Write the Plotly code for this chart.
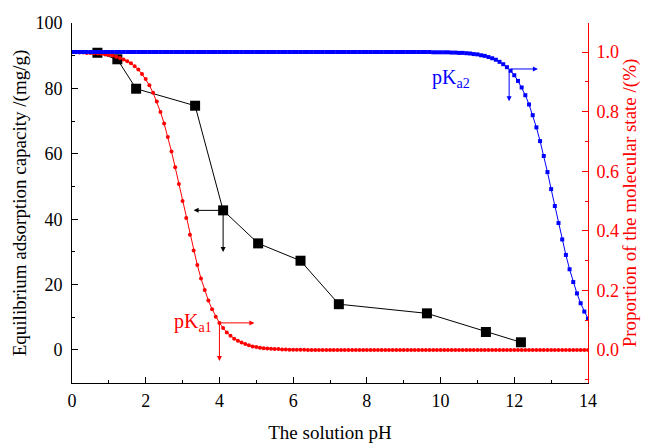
import plotly.graph_objects as go

# ---- adsorption data (black squares) ----
ph_ads = [0.69, 1.23, 1.74, 3.34, 4.10, 5.05, 6.20, 7.24, 9.63, 11.23, 12.18]
q_ads = [90.9, 88.9, 79.9, 74.7, 42.7, 32.6, 27.3, 14.0, 11.2, 5.5, 2.35]

# ---- pH grid of the dotted speciation curves ----
ph_grid = [
    0.0, 0.1, 0.2, 0.3, 0.4, 0.5, 0.6, 0.7, 0.8, 0.9,
    1.0, 1.1, 1.2, 1.3, 1.4, 1.5, 1.6, 1.7, 1.8, 1.9,
    2.0, 2.1, 2.2, 2.3, 2.4, 2.5, 2.6, 2.7, 2.8, 2.9,
    3.0, 3.1, 3.2, 3.3, 3.4, 3.5, 3.6, 3.7, 3.8, 3.9,
    4.0, 4.1, 4.2, 4.3, 4.4, 4.5, 4.6, 4.7, 4.8, 4.9,
    5.0, 5.1, 5.2, 5.3, 5.4, 5.5, 5.6, 5.7, 5.8, 5.9,
    6.0, 6.1, 6.2, 6.3, 6.4, 6.5, 6.6, 6.7, 6.8, 6.9,
    7.0, 7.1, 7.2, 7.3, 7.4, 7.5, 7.6, 7.7, 7.8, 7.9,
    8.0, 8.1, 8.2, 8.3, 8.4, 8.5, 8.6, 8.7, 8.8, 8.9,
    9.0, 9.1, 9.2, 9.3, 9.4, 9.5, 9.6, 9.7, 9.8, 9.9,
    10.0, 10.1, 10.2, 10.3, 10.4, 10.5, 10.6, 10.7, 10.8, 10.9,
    11.0, 11.1, 11.2, 11.3, 11.4, 11.5, 11.6, 11.7, 11.8, 11.9,
    12.0, 12.1, 12.2, 12.3, 12.4, 12.5, 12.6, 12.7, 12.8, 12.9,
    13.0, 13.1, 13.2, 13.3, 13.4, 13.5, 13.6, 13.7, 13.8, 13.9,
    14.0,
]

# proportion of molecular state around pKa1 (red)
frac_red = [
    0.999, 0.999, 0.998, 0.998, 0.997, 0.997, 0.996, 0.995, 0.994, 0.992,
    0.990, 0.988, 0.984, 0.980, 0.975, 0.969, 0.962, 0.952, 0.941, 0.926,
    0.909, 0.888, 0.863, 0.834, 0.799, 0.760, 0.715, 0.666, 0.613, 0.557,
    0.500, 0.443, 0.387, 0.334, 0.285, 0.240, 0.201, 0.166, 0.137, 0.112,
    0.091, 0.074, 0.059, 0.048, 0.038, 0.031, 0.025, 0.020, 0.016, 0.012,
    0.010, 0.008, 0.006, 0.005, 0.004, 0.003, 0.003, 0.002, 0.002, 0.001,
    0.001, 0.001, 0.001, 0.001, 0.000, 0.000, 0.000, 0.000, 0.000, 0.000,
    0.000, 0.000, 0.000, 0.000, 0.000, 0.000, 0.000, 0.000, 0.000, 0.000,
    0.000, 0.000, 0.000, 0.000, 0.000, 0.000, 0.000, 0.000, 0.000, 0.000,
    0.000, 0.000, 0.000, 0.000, 0.000, 0.000, 0.000, 0.000, 0.000, 0.000,
    0.000, 0.000, 0.000, 0.000, 0.000, 0.000, 0.000, 0.000, 0.000, 0.000,
    0.000, 0.000, 0.000, 0.000, 0.000, 0.000, 0.000, 0.000, 0.000, 0.000,
    0.000, 0.000, 0.000, 0.000, 0.000, 0.000, 0.000, 0.000, 0.000, 0.000,
    0.000, 0.000, 0.000, 0.000, 0.000, 0.000, 0.000, 0.000, 0.000, 0.000,
    0.000,
]

# proportion of molecular state around pKa2 (blue)
frac_blue = [
    1.000, 1.000, 1.000, 1.000, 1.000, 1.000, 1.000, 1.000, 1.000, 1.000,
    1.000, 1.000, 1.000, 1.000, 1.000, 1.000, 1.000, 1.000, 1.000, 1.000,
    1.000, 1.000, 1.000, 1.000, 1.000, 1.000, 1.000, 1.000, 1.000, 1.000,
    1.000, 1.000, 1.000, 1.000, 1.000, 1.000, 1.000, 1.000, 1.000, 1.000,
    1.000, 1.000, 1.000, 1.000, 1.000, 1.000, 1.000, 1.000, 1.000, 1.000,
    1.000, 1.000, 1.000, 1.000, 1.000, 1.000, 1.000, 1.000, 1.000, 1.000,
    1.000, 1.000, 1.000, 1.000, 1.000, 1.000, 1.000, 1.000, 1.000, 1.000,
    1.000, 1.000, 1.000, 1.000, 1.000, 1.000, 1.000, 1.000, 1.000, 1.000,
    1.000, 1.000, 1.000, 1.000, 1.000, 1.000, 1.000, 1.000, 1.000, 1.000,
    1.000, 1.000, 1.000, 1.000, 1.000, 1.000, 1.000, 1.000, 0.999, 0.999,
    0.999, 0.999, 0.999, 0.998, 0.998, 0.997, 0.997, 0.996, 0.995, 0.993,
    0.992, 0.989, 0.987, 0.983, 0.979, 0.974, 0.967, 0.959, 0.949, 0.937,
    0.922, 0.903, 0.881, 0.855, 0.824, 0.788, 0.747, 0.701, 0.651, 0.597,
    0.540, 0.483, 0.426, 0.371, 0.319, 0.271, 0.228, 0.190, 0.157, 0.129,
    0.105,
]

x_ticks = [0, 2, 4, 6, 8, 10, 12, 14]
y_left_ticks = [0, 20, 40, 60, 80, 100]
y_right_ticks = [0.0, 0.2, 0.4, 0.6, 0.8, 1.0]
y_right_labels = ["0.0", "0.2", "0.4", "0.6", "0.8", "1.0"]

FONT = "Liberation Serif"
RED = "#FF0000"
BLUE = "#0000FF"
TICK_SIZE = 18
TITLE_SIZE = 19

fig = go.Figure()

fig.add_trace(go.Scatter(
    x=ph_ads, y=q_ads, mode="lines+markers", yaxis="y",
    line=dict(color="black", width=1),
    marker=dict(symbol="square", size=10, color="black"),
    showlegend=False,
))
fig.add_trace(go.Scatter(
    x=ph_grid, y=frac_red, mode="lines+markers", yaxis="y2",
    line=dict(color=RED, width=1),
    marker=dict(symbol="circle", size=4, color=RED),
    showlegend=False,
))
fig.add_trace(go.Scatter(
    x=ph_grid, y=frac_blue, mode="lines+markers", yaxis="y2",
    line=dict(color=BLUE, width=1),
    marker=dict(symbol="square", size=4, color=BLUE),
    showlegend=False,
))


def arrow(x0, y0, x1, y1, color, yref):
    fig.add_annotation(
        x=x1, y=y1, ax=x0, ay=y0, xref="x", yref=yref, axref="x", ayref=yref,
        showarrow=True, arrowhead=2, arrowsize=1, arrowwidth=1,
        arrowcolor=color, standoff=0, startstandoff=0, text="",
    )


# black arrows at the 4.1 point
arrow(4.10, 42.7, 3.30, 42.7, "black", "y")
arrow(4.10, 42.7, 4.10, 30.0, "black", "y")
# pKa1 arrows (red)
arrow(4.0, 0.091, 4.95, 0.091, RED, "y2")
arrow(4.0, 0.091, 4.0, -0.037, RED, "y2")
# pKa2 arrows (blue)
arrow(11.86, 0.943, 12.64, 0.943, BLUE, "y2")
arrow(11.86, 0.943, 11.86, 0.835, BLUE, "y2")

fig.add_annotation(x=3.29, y=0.094, xref="x", yref="y2", showarrow=False,
                   text="pK<sub>a1</sub>", font=dict(family=FONT, size=20, color=RED),
                   xanchor="center", yanchor="middle")
fig.add_annotation(x=10.28, y=0.912, xref="x", yref="y2", showarrow=False,
                   text="pK<sub>a2</sub>", font=dict(family=FONT, size=20, color=BLUE),
                   xanchor="center", yanchor="middle")

# page has an 8px body margin, so margins are offset to keep the plot area in place
fig.update_layout(
    width=649, height=443,
    margin=dict(l=64, r=69, t=15, b=68),
    plot_bgcolor="white", paper_bgcolor="white",
    font=dict(family=FONT, size=TICK_SIZE, color="black"),
    xaxis=dict(
        range=[0, 14], tickvals=x_ticks, ticktext=[str(v) for v in x_ticks],
        automargin=False,
        showgrid=False, zeroline=False, showline=True, linecolor="black", linewidth=1,
        ticks="inside", ticklen=6, tickcolor="black", tickwidth=1,
        minor=dict(dtick=1, tick0=0, ticks="inside", ticklen=3, tickcolor="black"),
        ticklabelstandoff=1,
        title=dict(text="The solution pH", font=dict(family=FONT, size=TITLE_SIZE), standoff=16),
        tickfont=dict(family=FONT, size=TICK_SIZE, color="black"),
    ),
    yaxis=dict(
        range=[-10.1, 100], tickvals=y_left_ticks, ticktext=[str(v) for v in y_left_ticks],
        automargin=False,
        showgrid=False, zeroline=False, showline=True, linecolor="black", linewidth=1,
        ticks="inside", ticklen=6, tickcolor="black", tickwidth=1,
        minor=dict(dtick=10, tick0=0, ticks="inside", ticklen=3, tickcolor="black"),
        ticklabelstandoff=5,
        title=dict(text="Equilibrium adsorption capacity /(mg/g)",
                   font=dict(family=FONT, size=TITLE_SIZE), standoff=3),
        tickfont=dict(family=FONT, size=TICK_SIZE, color="black"),
    ),
    yaxis2=dict(
        overlaying="y", side="right", anchor="x",
        automargin=False,
        range=[-0.1107, 1.0973], tickvals=y_right_ticks, ticktext=y_right_labels,
        showgrid=False, zeroline=False, showline=True, linecolor=RED, linewidth=1,
        ticks="inside", ticklen=6, tickcolor=RED, tickwidth=1,
        minor=dict(dtick=0.1, tick0=0, ticks="inside", ticklen=3, tickcolor=RED),
        ticklabelstandoff=4,
        title=dict(text="Proportion of the molecular state /(%)",
                   font=dict(family=FONT, size=TITLE_SIZE, color=RED), standoff=0),
        tickfont=dict(family=FONT, size=TICK_SIZE, color=RED),
    ),
)

fig.write_html("out.html")
